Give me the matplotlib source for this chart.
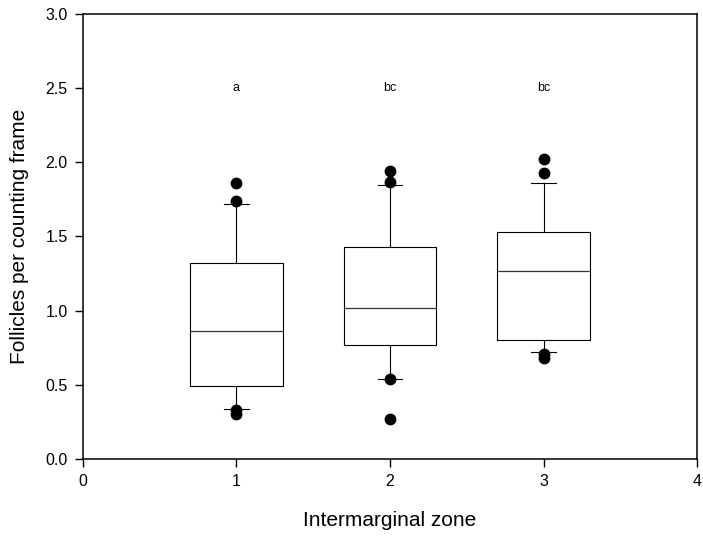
import matplotlib.pyplot as plt

plt.rcParams['font.family'] = ['Liberation Sans', 'DejaVu Sans']

# box statistics
zones = [1, 2, 3]
q1 = [0.49, 0.77, 0.80]
med = [0.86, 1.02, 1.27]
q3 = [1.32, 1.43, 1.53]
whislo = [0.34, 0.54, 0.72]
whishi = [1.72, 1.85, 1.86]
fliers = [[1.86, 1.74, 0.33, 0.30],
          [1.94, 1.87, 0.54, 0.27],
          [2.02, 1.93, 0.71, 0.68]]
letters = ['a', 'bc', 'bc']
letter_y = 2.5

stats = []
for i in range(len(zones)):
    stats.append({'q1': q1[i], 'med': med[i], 'q3': q3[i],
                  'whislo': whislo[i], 'whishi': whishi[i],
                  'fliers': fliers[i]})

fig = plt.figure(figsize=(7.03, 5.36), dpi=100)
ax = fig.add_axes([0.118, 0.1437, 0.8735, 0.8303])

ax.bxp(stats, positions=zones, widths=0.6, showfliers=True,
       boxprops=dict(color='black', linewidth=0.8),
       medianprops=dict(color='#333333', linewidth=0.9),
       whiskerprops=dict(color='black', linewidth=0.8),
       capprops=dict(color='black', linewidth=0.8),
       capwidths=0.16,
       flierprops=dict(marker='o', markerfacecolor='black',
                       markeredgecolor='black', markersize=7.5))

for x, t in zip(zones, letters):
    ax.text(x, letter_y, t, ha='center', va='center', fontsize=9)

ax.set_xlim(0, 4)
ax.set_ylim(0, 3.0)
ax.set_xticks([0, 1, 2, 3, 4])
ax.set_xticklabels(['0', '1', '2', '3', '4'])
ax.set_yticks([0.0, 0.5, 1.0, 1.5, 2.0, 2.5, 3.0])
ax.set_yticklabels(['0.0', '0.5', '1.0', '1.5', '2.0', '2.5', '3.0'])
ax.tick_params(direction='out', length=6, width=1, labelsize=11.5, pad=5)
for s in ax.spines.values():
    s.set_linewidth(1.1)

ax.set_xlabel('Intermarginal zone', fontsize=15, labelpad=16)
ax.set_ylabel('Follicles per counting frame', fontsize=15, labelpad=12)

fig.savefig('out.png', dpi=100)
